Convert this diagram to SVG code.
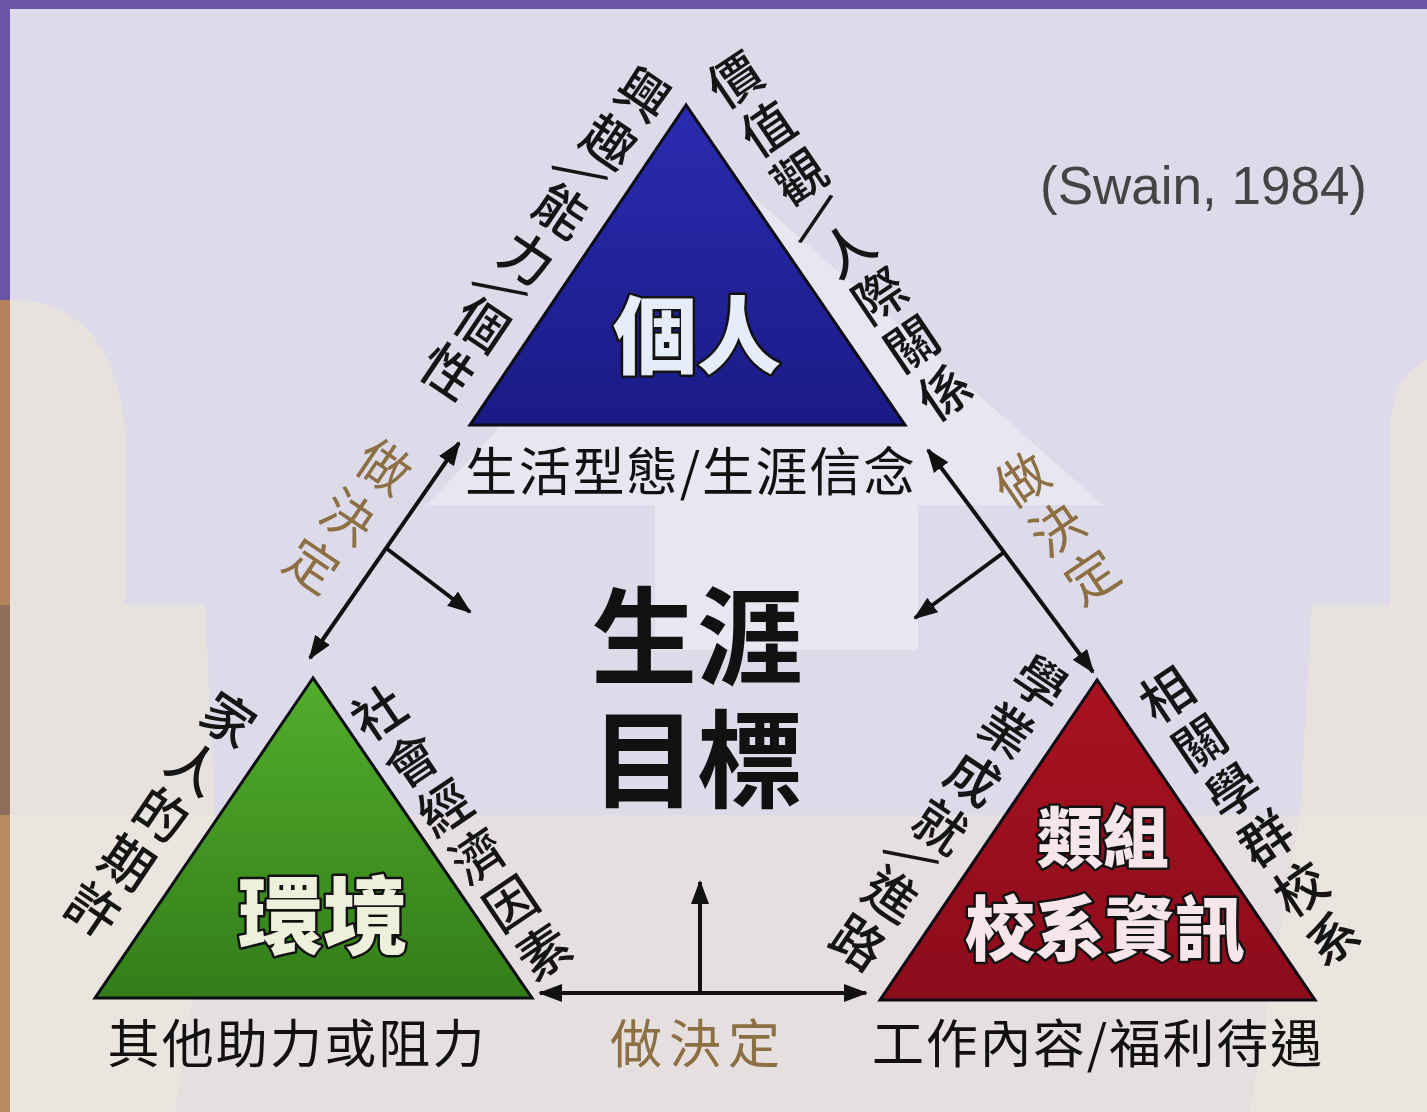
<svg xmlns="http://www.w3.org/2000/svg" width="1427" height="1112" viewBox="0 0 1427 1112">
<defs>
<style>
.cj{font-family:"Noto Sans CJK TC","Noto Sans CJK SC",sans-serif;}
.e{font-size:52px;fill:#151515;text-anchor:middle;dominant-baseline:central;font-weight:500;}
.sp{font-size:56px;fill:#151515;text-anchor:middle;dominant-baseline:central;}
.lb{font-size:52px;fill:#111;text-anchor:middle;dominant-baseline:central;}
.dl{font-size:52px;fill:#8d6f44;text-anchor:middle;dominant-baseline:central;}
.tt{font-weight:900;text-anchor:middle;dominant-baseline:central;stroke:#121212;stroke-width:5;paint-order:stroke;stroke-linejoin:round;}
.tri{stroke:#0c0c14;stroke-width:3;stroke-linejoin:miter;}
.arr{stroke:#111;stroke-width:4;fill:none;}
.goal{font-size:106px;font-weight:700;fill:#111;text-anchor:middle;dominant-baseline:central;}
</style>
<linearGradient id="gb" x1="0" y1="0" x2="0" y2="1"><stop offset="0" stop-color="#2a2cb0"/><stop offset="1" stop-color="#1a1a86"/></linearGradient>
<linearGradient id="gg" x1="0" y1="0" x2="0" y2="1"><stop offset="0" stop-color="#52ad2c"/><stop offset="1" stop-color="#327d19"/></linearGradient>
<linearGradient id="gr" x1="0" y1="0" x2="0" y2="1"><stop offset="0" stop-color="#a8121f"/><stop offset="1" stop-color="#8c0c1c"/></linearGradient>
<marker id="ah" viewBox="0 0 24 18" refX="22" refY="9" markerWidth="24" markerHeight="18" markerUnits="userSpaceOnUse" orient="auto-start-reverse"><path d="M0,0 L24,9 L0,18 z" fill="#111"/></marker>
</defs>

<g id="background">
<rect width="1427" height="1112" fill="#dddbea"/>
<rect y="815" width="1427" height="297" fill="#e5dfe0"/>
<path d="M10,300 Q112,300 125,430 L125,605 L205,605 L215,815 L10,815 Z" fill="#e8e2df"/>
<path d="M10,815 L220,815 L175,1112 L10,1112 Z" fill="#ebe5e0"/>
<path d="M1427,360 Q1392,375 1390,430 L1390,605 L1312,605 L1300,815 L1427,815 Z" fill="#e8e2df"/>
<path d="M1300,815 L1427,815 L1427,1112 L1250,1112 Z" fill="#ebe5e0"/>
<polygon points="732,178 1103,505 918,505 918,650 655,650 655,505 427,505" fill="#e8e7f1"/>
<rect x="0" y="0" width="10" height="300" fill="#6b54a6"/>
<rect x="0" y="300" width="10" height="305" fill="#b3825c"/>
<rect x="0" y="605" width="10" height="210" fill="#8f6e5b"/>
<rect x="0" y="815" width="10" height="297" fill="#b98b63"/>
<rect x="0" y="0" width="1427" height="9" fill="#6b54a6"/>
</g>

<g id="person">
<polygon class="tri" points="686,105 470,425 905,425" fill="url(#gb)"/>
<text class="cj tt" x="697" y="330" font-size="84" fill="#e6edf8">個人</text>
<text class="cj lb" x="690" y="468" textLength="450" lengthAdjust="spacing">生活型態/生涯信念</text>
<text class="cj e" transform="translate(645,92) rotate(34)">興</text>
<text class="cj e" transform="translate(611,139) rotate(34)">趣</text>
<text class="cj sp" transform="translate(587,172) rotate(84)">/</text>
<text class="cj e" transform="translate(563,208) rotate(34)">能</text>
<text class="cj e" transform="translate(529,256) rotate(34)">力</text>
<text class="cj sp" transform="translate(507,288) rotate(84)">/</text>
<text class="cj e" transform="translate(484,322) rotate(34)">個</text>
<text class="cj e" transform="translate(450,369) rotate(34)">性</text>
<text class="cj e" transform="translate(733,77) rotate(-34)">價</text>
<text class="cj e" transform="translate(766,126) rotate(-34)">值</text>
<text class="cj e" transform="translate(798,174) rotate(-34)">觀</text>
<text class="cj sp" transform="translate(818,212) rotate(17)">/</text>
<text class="cj e" transform="translate(846,247) rotate(-34)">人</text>
<text class="cj e" transform="translate(878,293) rotate(-34)">際</text>
<text class="cj e" transform="translate(910,341) rotate(-34)">關</text>
<text class="cj e" transform="translate(943,390) rotate(-34)">係</text>
</g>

<g id="environment">
<polygon class="tri" points="313,678 95,998 532,998" fill="url(#gg)"/>
<text class="cj tt" x="323" y="910" font-size="85" fill="#eef0dc">環境</text>
<text class="cj lb" x="296" y="1040" textLength="377" lengthAdjust="spacing">其他助力或阻力</text>
<text class="cj e" transform="translate(230,717) rotate(34)">家</text>
<text class="cj e" transform="translate(196,765) rotate(34)">人</text>
<text class="cj e" transform="translate(163,812) rotate(34)">的</text>
<text class="cj e" transform="translate(129,860) rotate(34)">期</text>
<text class="cj e" transform="translate(95,907) rotate(34)">許</text>
<text class="cj e" transform="translate(377,710) rotate(-34)">社</text>
<text class="cj e" transform="translate(410,758) rotate(-34)">會</text>
<text class="cj e" transform="translate(443,805) rotate(-34)">經</text>
<text class="cj e" transform="translate(476,853) rotate(-34)">濟</text>
<text class="cj e" transform="translate(509,901) rotate(-34)">因</text>
<text class="cj e" transform="translate(542,949) rotate(-34)">素</text>
</g>

<g id="information">
<polygon class="tri" points="1097,680 880,1000 1315,1000" fill="url(#gr)"/>
<text class="cj tt" x="1103" y="833" font-size="66" fill="#f6e6ea">類組</text>
<text class="cj tt" x="1105" y="924" font-size="70" fill="#f6e6ea">校系資訊</text>
<text class="cj lb" x="1097" y="1040" textLength="450" lengthAdjust="spacing">工作內容/福利待遇</text>
<text class="cj e" transform="translate(1042,680) rotate(34)">學</text>
<text class="cj e" transform="translate(1008,728) rotate(34)">業</text>
<text class="cj e" transform="translate(975,776) rotate(34)">成</text>
<text class="cj e" transform="translate(942,824) rotate(34)">就</text>
<text class="cj sp" transform="translate(918,856) rotate(84)">/</text>
<text class="cj e" transform="translate(893,892) rotate(34)">進</text>
<text class="cj e" transform="translate(860,940) rotate(34)">路</text>
<text class="cj e" transform="translate(1165,692) rotate(-34)">相</text>
<text class="cj e" transform="translate(1198,740) rotate(-34)">關</text>
<text class="cj e" transform="translate(1231,788) rotate(-34)">學</text>
<text class="cj e" transform="translate(1264,836) rotate(-34)">群</text>
<text class="cj e" transform="translate(1299,886) rotate(-34)">校</text>
<text class="cj e" transform="translate(1331,935) rotate(-34)">系</text>
</g>

<g id="goal">
<text class="cj goal"><tspan x="697" y="630">生涯</tspan><tspan x="697" y="753">目標</tspan></text>
</g>

<g id="citation">
<text x="1040" y="204" font-family="Liberation Sans, Arial, sans-serif" font-size="53" fill="#444">(Swain, 1984)</text>
</g>

<g id="connectors">
<line class="arr" x1="459" y1="443" x2="310" y2="658" marker-start="url(#ah)" marker-end="url(#ah)"/>
<line class="arr" x1="386" y1="548" x2="470" y2="612" marker-end="url(#ah)"/>
<line class="arr" x1="928" y1="450" x2="1093" y2="672" marker-start="url(#ah)" marker-end="url(#ah)"/>
<line class="arr" x1="1003" y1="553" x2="915" y2="618" marker-end="url(#ah)"/>
<line class="arr" x1="540" y1="993" x2="866" y2="993" marker-start="url(#ah)" marker-end="url(#ah)"/>
<line class="arr" x1="700" y1="993" x2="700" y2="882" marker-end="url(#ah)"/>
<text class="cj dl" transform="translate(386,464) rotate(34)">做</text>
<text class="cj dl" transform="translate(350,514) rotate(34)">決</text>
<text class="cj dl" transform="translate(314,563) rotate(34)">定</text>
<text class="cj dl" transform="translate(1020,477) rotate(-34)">做</text>
<text class="cj dl" transform="translate(1055,526) rotate(-34)">決</text>
<text class="cj dl" transform="translate(1090,574) rotate(-34)">定</text>
<text class="cj dl" x="695" y="1040" textLength="170" lengthAdjust="spacing">做決定</text>
</g>
</svg>
